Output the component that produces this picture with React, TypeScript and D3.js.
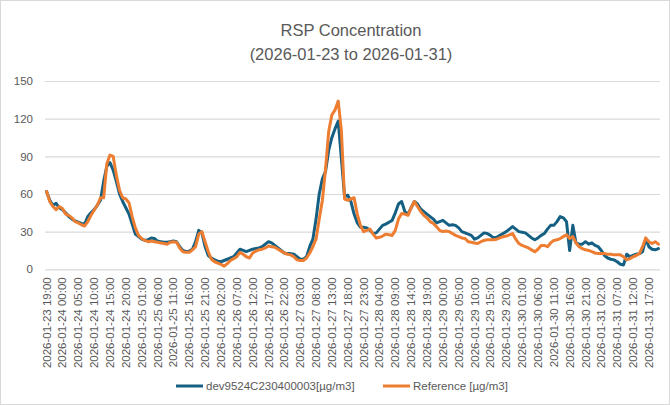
import { useEffect, useRef } from "react";
import * as d3 from "d3";

// hourly readings, 2026-01-23 19:00 .. 2026-01-31 20:00
const start = new Date(Date.UTC(2026, 0, 23, 19));
const end = new Date(Date.UTC(2026, 0, 31, 21));
const hours = d3.utcHour.range(start, end);
const fmt = d3.utcFormat("%Y-%m-%d %H:%M");
const categories = hours.map((h) => fmt(h));

const device = [
  62, 55, 51, 52.5, 49, 47.5, 45, 42, 40, 38.5, 37.5, 36.5, 36, 42, 45, 47.5, 51, 55, 70, 82,
  85, 79, 70, 60, 54, 49, 44, 36, 28, 26, 24, 23, 23.5, 25, 24.5, 22.5, 22, 21.5, 21.5, 22,
  22.5, 22, 18, 15, 14, 14.5, 16, 22, 31, 29, 18, 11, 9, 7.5, 6.5, 6, 7, 8, 9, 10,
  13, 16, 15, 14, 15, 16, 16.5, 17, 18, 20, 22, 21, 19, 17, 15, 13, 12.5, 12.5, 12, 10,
  8, 8, 10, 18, 24, 40, 60, 72, 78, 95, 105, 112, 118, 88, 58, 59, 54, 44, 37, 33.5,
  33.5, 33, 31, 28.5, 29, 32, 35, 36, 37.5, 39, 45, 52, 54, 46, 44, 49, 54, 52, 48, 46,
  44, 42, 40, 37, 38, 39, 37, 35, 35.5, 35, 33, 30, 29, 28, 27, 24, 25, 27, 29, 28.5,
  27, 25, 25.5, 27, 28.5, 30, 32, 34, 32, 30, 29.5, 29, 27, 25, 23.5, 25, 27, 28.5, 32, 35,
  35, 38, 42, 41, 38, 15, 35, 21, 20, 20, 22, 20, 21, 19, 18, 15, 11, 9, 8, 7.5,
  6, 4, 3.5, 12, 10, 11, 12, 12.5, 14, 24, 18, 16, 15.5, 16.5,
];

const reference = [
  62, 54, 50, 47.5, 50, 48.5, 44, 43, 41, 38, 37, 35.5, 34.5, 38, 43, 47, 51, 57, 57, 84,
  91, 90, 75, 63, 57, 56, 53, 42, 33, 27, 24.5, 23, 22, 22.5, 22, 21.5, 21, 20.5, 20, 21.5,
  22, 21.5, 17, 14, 13.5, 13.5, 15.5, 18, 28, 30, 22, 14, 8, 6, 5, 4, 2.5, 4.5, 7, 8.5,
  10, 13.5, 12, 10, 9, 13, 14.5, 15.5, 16, 17, 18.5, 18, 17.5, 16, 14.5, 13, 12, 11.5, 10, 7.5,
  7, 7, 9, 13, 18, 24, 40, 55, 80, 110, 123, 127, 134, 110, 56, 55, 56, 57, 44, 35,
  30, 31, 32, 28, 25, 25.5, 26.5, 28, 27.5, 27, 31, 40, 44.5, 44, 43, 49, 54, 50, 46, 43,
  41, 38, 36.5, 34, 31, 30, 30.5, 30, 28.5, 27, 26, 25, 24.5, 22, 21.5, 21, 20.5, 22, 23, 23.5,
  23.5, 23.5, 24, 25, 26, 26.5, 27.5, 28.5, 24, 20.5, 19, 18, 17, 15.5, 14, 16, 19, 19, 18, 21,
  23, 23.5, 24.5, 26, 27.5, 24.5, 26, 21, 18, 16.5, 15.5, 15, 14, 13, 12.5, 12.5, 12.5, 12, 12, 11.5,
  11.5, 11.5, 10, 7.5, 8.5, 10, 11, 12.5, 18, 25, 22, 20.5, 22, 20,
];

const yTicks = [0, 30, 60, 90, 120, 150];
const seriesNames = ["dev9524C230400003[µg/m3]", "Reference [µg/m3]"];
const colors = ["#156082", "#ED7D31"];
const titleLines = ["RSP Concentration", "(2026-01-23 to 2026-01-31)"];

const W = 670;
const H = 405;
const plot = { left: 45, right: 660, top: 81, bottom: 269.3 };
const FONT = "'Liberation Sans', Arial, sans-serif";

export default function App() {
  const ref = useRef<SVGSVGElement>(null);

  useEffect(() => {
    const svg = d3.select(ref.current);
    svg.selectAll("*").remove();

    svg
      .append("rect")
      .attr("x", 0.5)
      .attr("y", 0.5)
      .attr("width", W - 1)
      .attr("height", H - 1)
      .attr("fill", "#fff")
      .attr("stroke", "#d9d9d9");

    const x = d3
      .scaleBand<number>()
      .domain(d3.range(categories.length))
      .range([plot.left, plot.right]);
    const cx = (i: number) => (x(i) as number) + x.bandwidth() / 2;

    const y = d3.scaleLinear().domain([0, 150]).range([plot.bottom, plot.top]);

    // gridlines + y labels
    const yAxis = svg
      .append("g")
      .attr("transform", `translate(${plot.left},0)`)
      .call(
        d3
          .axisLeft(y)
          .tickValues(yTicks)
          .tickSize(-(plot.right - plot.left))
          .tickPadding(12)
      );
    yAxis.select(".domain").remove();
    yAxis.selectAll("line").attr("stroke", "#d9d9d9").attr("stroke-width", 1.2);
    yAxis
      .selectAll("text")
      .attr("fill", "#595959")
      .style("font-family", FONT)
      .style("font-size", "11.5px");

    // x labels, every 5th hour
    const xAxis = svg
      .append("g")
      .attr("transform", `translate(0,${plot.bottom})`)
      .call(
        d3
          .axisBottom(x)
          .tickValues(d3.range(0, categories.length, 5))
          .tickFormat((i) => categories[i as number])
          .tickSize(0)
      );
    xAxis.select(".domain").remove();
    xAxis
      .selectAll("text")
      .attr("fill", "#595959")
      .style("font-family", FONT)
      .style("font-size", "11.5px")
      .attr("text-anchor", "end")
      .attr("dx", 0)
      .attr("dy", "0.35em")
      .attr("x", -8)
      .attr("y", 0)
      .attr("transform", "rotate(-90)");
    xAxis
      .selectAll(".tick")
      .attr("transform", (d) => `translate(${cx(d as number)},0)`);

    // series lines
    const line = d3
      .line<number>()
      .x((_, i) => cx(i))
      .y((d) => y(d));

    [device, reference].forEach((s, k) => {
      svg
        .append("path")
        .datum(s)
        .attr("d", line)
        .attr("fill", "none")
        .attr("stroke", colors[k])
        .attr("stroke-width", 3)
        .attr("stroke-linejoin", "round")
        .attr("stroke-linecap", "round");
    });

    // title
    const title = svg
      .append("text")
      .attr("x", 351)
      .attr("y", 36)
      .attr("text-anchor", "middle")
      .attr("fill", "#595959")
      .style("font-family", FONT)
      .style("font-size", "16.5px");
    titleLines.forEach((t, i) => {
      title
        .append("tspan")
        .attr("x", 351)
        .attr("dy", i === 0 ? 0 : 24)
        .text(t);
    });

    // legend
    const legendX = [176, 383];
    const legend = svg.append("g").attr("transform", "translate(0,386)");
    seriesNames.forEach((name, k) => {
      legend
        .append("line")
        .attr("x1", legendX[k])
        .attr("x2", legendX[k] + 27)
        .attr("stroke", colors[k])
        .attr("stroke-width", 3);
      legend
        .append("text")
        .attr("x", legendX[k] + 30)
        .attr("dy", "0.35em")
        .attr("fill", "#595959")
        .style("font-family", FONT)
        .style("font-size", "11.5px")
        .text(name);
    });
  }, []);

  return (
    <svg
      ref={ref}
      width={W}
      height={H}
      style={{ position: "fixed", left: 0, top: 0, background: "#fff" }}
    ></svg>
  );
}
